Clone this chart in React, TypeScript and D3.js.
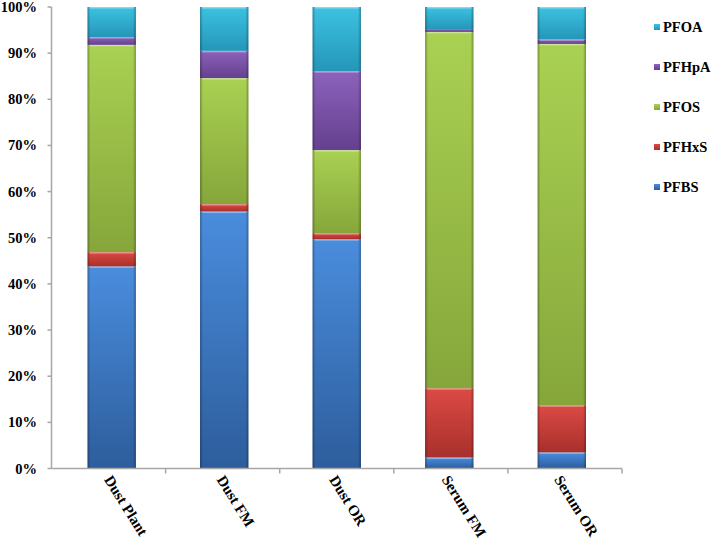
import React from 'react'
import * as d3 from 'd3'

const categories = ['Dust Plant', 'Dust FM', 'Dust OR', 'Serum FM', 'Serum OR']
const seriesNames = ['PFBS', 'PFHxS', 'PFOS', 'PFHpA', 'PFOA']
const PFBS = [43.8, 55.7, 49.7, 2.4, 3.5]
const PFHxS = [3.1, 1.6, 1.3, 15.0, 10.2]
const PFOS = [44.9, 27.3, 18.0, 77.2, 78.3]
const PFHpA = [1.7, 5.9, 17.1, 0.6, 1.0]
const PFOA = [6.5, 9.5, 13.9, 4.8, 7.0]
const yTicks = [0, 10, 20, 30, 40, 50, 60, 70, 80, 90, 100]

const colors: Record<string, [string, string]> = {
  PFBS: ['#4a8ddd', '#2d5d9c'],
  PFHxS: ['#dc4a44', '#a8302c'],
  PFOS: ['#a9d152', '#86a63b'],
  PFHpA: ['#8c62bc', '#64408e'],
  PFOA: ['#3cc2e2', '#2596b8'],
}

const W = 726
const H = 547
const left = 51.5
const right = 622
const top = 7
const bottom = 468.5
const font = '"Liberation Serif", "Times New Roman", serif'

export default function App() {
  const rows = categories.map((c, i) => ({
    cat: c,
    PFBS: PFBS[i],
    PFHxS: PFHxS[i],
    PFOS: PFOS[i],
    PFHpA: PFHpA[i],
    PFOA: PFOA[i],
  }))
  const stacked = d3.stack<any>().keys(seriesNames)(rows)
  const band = d3.scaleBand().domain(categories).range([left, right])
  const x = d3.scaleBand().domain(categories).range([left, right]).paddingInner(0.57).paddingOuter(0.32)
  const y = d3.scaleLinear().domain([0, 100]).range([bottom, top])

  return (
    <svg width={W} height={H} style={{ position: 'absolute', left: 0, top: 0 }}>
      <defs>
        {seriesNames.map(s => (
          <linearGradient key={s} id={'g-' + s} x1="0" y1="0" x2="0" y2="1">
            <stop offset="0%" stopColor={colors[s][0]} />
            <stop offset="100%" stopColor={colors[s][1]} />
          </linearGradient>
        ))}
        <linearGradient id="edge" x1="0" y1="0" x2="1" y2="0">
          <stop offset="0%" stopColor="#000" stopOpacity={0.3} />
          <stop offset="6%" stopColor="#000" stopOpacity={0} />
          <stop offset="94%" stopColor="#000" stopOpacity={0} />
          <stop offset="100%" stopColor="#000" stopOpacity={0.3} />
        </linearGradient>
      </defs>
      <rect width={W} height={H} fill="#fff" />

      {stacked.map(layer => (
        <g key={layer.key}>
          {layer.map((d, i) => {
            const bx = x(categories[i]) as number
            const y0 = y(d[1])
            const h = y(d[0]) - y(d[1])
            return (
              <g key={i}>
                <rect x={bx} y={y0} width={x.bandwidth()} height={h} fill={`url(#g-${layer.key})`} />
                <rect x={bx} y={y0} width={x.bandwidth()} height={h} fill="url(#edge)" />
                {h > 3 && (
                  <rect x={bx + 2} y={y0} width={x.bandwidth() - 4} height={1.5} fill="#fff" opacity={0.4} />
                )}
              </g>
            )
          })}
        </g>
      ))}

      {/* y axis */}
      <line x1={left} x2={left} y1={top} y2={bottom} stroke="#a6a6a6" strokeWidth={1.5} />
      {yTicks.map(t => (
        <g key={t}>
          <line x1={left - 4} x2={left} y1={y(t)} y2={y(t)} stroke="#a6a6a6" strokeWidth={1.5} />
          <text x={37} y={y(t) + 5} textAnchor="end" fontFamily={font} fontWeight="bold" fontSize={14.5} fill="#000">
            {t}%
          </text>
        </g>
      ))}

      {/* x axis */}
      <line x1={left} x2={right} y1={bottom} y2={bottom} stroke="#a6a6a6" strokeWidth={1.5} />
      {categories.map(c => (
        <line key={c} x1={(band(c) as number) + band.bandwidth()} x2={(band(c) as number) + band.bandwidth()} y1={bottom} y2={bottom + 5} stroke="#a6a6a6" strokeWidth={1.5} />
      ))}
      {categories.map(c => {
        const cx = (x(c) as number) + x.bandwidth() / 2
        return (
          <text
            key={c}
            transform={`translate(${cx - 8},${bottom + 11}) rotate(58)`}
            fontFamily={font}
            fontWeight="bold"
            fontSize={15}
            fill="#000"
          >
            {c}
          </text>
        )
      })}

      {/* legend */}
      {seriesNames.slice().reverse().map((s, i) => (
        <g key={s} transform={`translate(654, ${28 + i * 40})`}>
          <rect x={0} y={-4} width={6} height={6} fill={`url(#g-${s})`} />
          <text x={9} y={4} fontFamily={font} fontWeight="bold" fontSize={14.5} fill="#000">
            {s}
          </text>
        </g>
      ))}
    </svg>
  )
}
